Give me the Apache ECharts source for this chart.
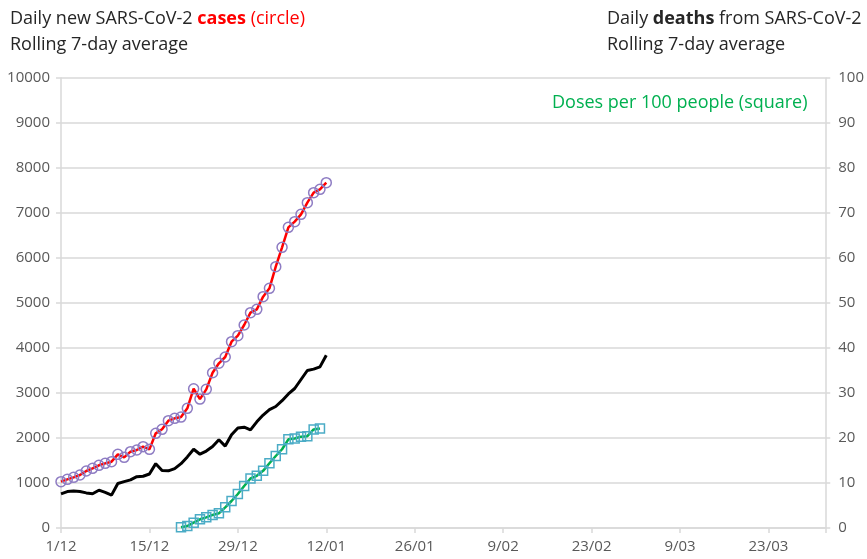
<!DOCTYPE html>
<html>
<head>
<meta charset="utf-8">
<script src="https://cdn.jsdelivr.net/npm/echarts@6/dist/echarts.min.js"></script>
<style>
html,body{margin:0;padding:0;background:#fff;}
#chart{width:867px;height:559px;}
</style>
</head>
<body>
<div id="chart"></div>
<script>
// Tick labels for the date axis (every 14 days starting 1/12)
const xTickLabels = ['1/12','15/12','29/12','12/01','26/01','9/02','23/02','9/03','23/03'];
const xTickStep = 14;
const xMaxDay = 121;

// Daily new cases (rolling 7-day avg), starting at day 0 (1/12)
const casesStartDay = 0;
const casesValues = [1030,1081,1126,1178,1267,1326,1393,1437,1474,1637,
  1570,1696,1733,1807,1748,2104,2193,2385,2437,2465,
  2659,3095,2865,3081,3450,3660,3800,4141,4274,4511,
  4785,4859,5141,5326,5807,6237,6681,6807,6970,7230,
  7452,7526,7674];

// Daily deaths (rolling 7-day avg), right axis, starting at day 0
const deathsStartDay = 0;
const deathsValues = [7.6,8.1,8.2,8.1,7.8,7.6,8.4,7.9,7.3,9.9,
  10.3,10.7,11.4,11.5,12.0,14.3,12.8,12.7,13.2,14.3,
  15.8,17.5,16.4,17.1,18.1,19.6,18.2,20.7,22.2,22.4,
  21.8,23.6,25.1,26.3,27.0,28.3,29.8,31.0,33.0,35.0,
  35.3,35.8,38.4];

// Doses per 100 people, right axis, starting at day 19
const dosesStartDay = 19;
const dosesValues = [0.15,0.44,1.19,1.93,2.37,2.9,3.26,4.59,6.0,7.56,
  9.33,11.0,11.6,12.7,14.4,16.0,17.5,19.7,19.9,20.3,
  20.4,21.9,22.1];

function pairs(start, vals){ return vals.map((v,i)=>[start+i, v]); }

const FONT = '"Open Sans", "Noto Sans", sans-serif';
const chart = echarts.init(document.getElementById('chart'), null, {renderer:'canvas'});
const axisGray = '#d9d9d9';
const labelGray = '#595959';
const TS = 18;

chart.setOption({
  animation:false,
  backgroundColor:'#ffffff',
  title:[
    {
      left:5, top:1,
      text:'Daily new SARS-CoV-2 {b|cases} {r|(circle)}\nRolling 7-day average',
      textStyle:{fontFamily:FONT,fontSize:TS,fontWeight:'normal',color:'#262626',lineHeight:26,
        rich:{
          b:{fontFamily:FONT,fontSize:TS,fontWeight:'bold',color:'#ff0000',lineHeight:26},
          r:{fontFamily:FONT,fontSize:TS,color:'#ff0000',lineHeight:26}
        }}
    },
    {
      left:602, top:1,
      text:'Daily {b|deaths} from SARS-CoV-2\nRolling 7-day average',
      textStyle:{fontFamily:FONT,fontSize:TS,fontWeight:'normal',color:'#262626',lineHeight:26,
        rich:{
          b:{fontFamily:FONT,fontSize:TS,fontWeight:'bold',color:'#262626',lineHeight:26}
        }}
    },
    {
      left:547, top:89,
      text:'Doses per 100 people (square)',
      textStyle:{fontFamily:FONT,fontSize:TS,fontWeight:'normal',color:'#00b050'}
    }
  ],
  grid:{left:61, right:40, top:78, bottom:31, containLabel:false},
  xAxis:{
    type:'value', min:0, max:xMaxDay, interval:xTickStep,
    axisLine:{show:true,onZero:false,lineStyle:{color:axisGray,width:1.5}},
    axisTick:{show:true,length:5,lineStyle:{color:axisGray,width:1.5}},
    splitLine:{show:false},
    axisLabel:{
      fontFamily:FONT,fontSize:15,color:labelGray,margin:11,
      formatter:function(v){
        const idx = v / xTickStep;
        return (Number.isInteger(idx) && idx < xTickLabels.length) ? xTickLabels[idx] : '';
      }
    }
  },
  yAxis:[
    {
      type:'value', min:0, max:10000, interval:1000, position:'left',
      axisLine:{show:true,lineStyle:{color:axisGray,width:1.5}},
      axisTick:{show:true,length:5,lineStyle:{color:axisGray,width:1.5}},
      splitLine:{show:true,lineStyle:{color:axisGray,width:1.5}},
      axisLabel:{fontFamily:FONT,fontSize:15,color:labelGray,margin:11,
        formatter:function(v){ return String(v); }}
    },
    {
      type:'value', min:0, max:100, interval:10, position:'right',
      axisLine:{show:true,lineStyle:{color:axisGray,width:1.5}},
      axisTick:{show:true,length:5,lineStyle:{color:axisGray,width:1.5}},
      splitLine:{show:false},
      axisLabel:{fontFamily:FONT,fontSize:15,color:labelGray,margin:13,
        formatter:function(v){ return String(v); }}
    }
  ],
  series:[
    {
      name:'Deaths', type:'line', yAxisIndex:1,
      data:pairs(deathsStartDay, deathsValues),
      showSymbol:false, symbol:'none',
      lineStyle:{color:'#000000',width:3},
      z:2
    },
    {
      name:'Doses', type:'line', yAxisIndex:1,
      data:pairs(dosesStartDay, dosesValues),
      symbol:'rect', symbolSize:9,
      lineStyle:{color:'#00b050',width:2.5},
      itemStyle:{color:'rgba(255,255,255,0)',borderColor:'#4bacc6',borderWidth:1.5},
      z:3
    },
    {
      name:'Cases', type:'line', yAxisIndex:0,
      data:pairs(casesStartDay, casesValues),
      symbol:'circle', symbolSize:10,
      lineStyle:{color:'#ff0000',width:2.5},
      itemStyle:{color:'rgba(255,255,255,0)',borderColor:'#8e7cc3',borderWidth:1.5},
      z:4
    }
  ]
});
</script>
</body>
</html>
